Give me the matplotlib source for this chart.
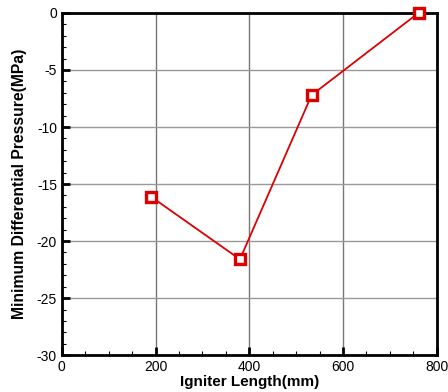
import numpy as np
import matplotlib.pyplot as plt
from matplotlib.ticker import MultipleLocator

plt.rcParams['font.family'] = ['Liberation Sans', 'DejaVu Sans']
plt.rcParams['axes.unicode_minus'] = False

# igniter length (mm) vs minimum differential pressure (MPa)
length = [190, 380, 533, 761]
pressure = [-16.1, -21.6, -7.2, 0.0]

fig = plt.figure(figsize=(4.48, 3.92), dpi=100)
ax = fig.add_axes([0.138, 0.094, 0.837, 0.873])

ax.plot(length, pressure, color='#dd0000', lw=1.3, marker='s', ms=7,
        mfc='white', mec='#dd0000', mew=2.4, zorder=5, clip_on=False)

ax.set_xlim(0, 800)
ax.set_ylim(-30, 0)
ax.xaxis.set_major_locator(MultipleLocator(200))
ax.xaxis.set_minor_locator(MultipleLocator(50))
ax.yaxis.set_major_locator(MultipleLocator(5))
ax.yaxis.set_minor_locator(MultipleLocator(1))

ax.grid(True, which='major', axis='y', color='#999999', lw=1.0)
ax.grid(True, which='major', axis='x', color='#777777', lw=1.0)
ax.tick_params(which='both', direction='in', top=False, right=False, labelsize=10)
ax.tick_params(which='major', length=6, width=2)
ax.tick_params(which='minor', length=3, width=0.8)
for s in ax.spines.values():
    s.set_linewidth(2.0)

ax.set_xlabel('Igniter Length(mm)', fontsize=11, fontweight='bold', labelpad=1)
ax.set_ylabel('Minimum Differential Pressure(MPa)', fontsize=11.3, fontweight='bold', labelpad=7)

fig.savefig('out.png', dpi=100)
